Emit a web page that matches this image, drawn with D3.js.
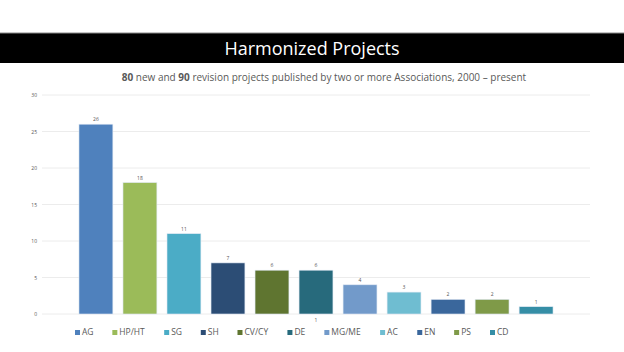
<!DOCTYPE html>
<html lang="en">
<head>
    <meta charset="UTF-8">
    <title>Harmonized Projects</title>
    <script src="https://cdnjs.cloudflare.com/ajax/libs/d3/7.8.5/d3.min.js"></script>
    <style>
        body { margin: 0; background: #fff; font-family: "Open Sans", Arial, sans-serif; }
        svg { display: block; }
    </style>
</head>
<body>
    <svg id="chart"></svg>
    <script>
        const width = 624;
        const height = 352;

        const categories = ["AG", "HP/HT", "SG", "SH", "CV/CY", "DE", "MG/ME", "AC", "EN", "PS", "CD"];
        const values = [26, 18, 11, 7, 6, 6, 4, 3, 2, 2, 1];
        const colors = ["#4f81bd", "#9bbb59", "#4bacc6", "#2c4d75", "#5f7530", "#276a7c",
                        "#729aca", "#6fbdd1", "#3a679c", "#7f9a48", "#358ea6"];
        const yTicks = [0, 5, 10, 15, 20, 25, 30];

        let svg = d3.select("#chart")
            .attr("width", width)
            .attr("height", height);

        // title band
        svg.append("rect")
            .attr("x", 0).attr("y", 33)
            .attr("width", width).attr("height", 30)
            .attr("fill", "#000");
        svg.append("line")
            .attr("x1", 0).attr("x2", width)
            .attr("y1", 33).attr("y2", 33)
            .attr("stroke", "#888").attr("stroke-width", 1);

        svg.append("text")
            .attr("x", width / 2).attr("y", 55)
            .attr("text-anchor", "middle")
            .attr("fill", "#fff")
            .attr("font-size", 18)
            .text("Harmonized Projects");

        let sub = svg.append("text")
            .attr("x", 324).attr("y", 81)
            .attr("text-anchor", "middle")
            .attr("fill", "#595959")
            .attr("font-size", 10);
        sub.append("tspan").attr("font-weight", "bold").text("80");
        sub.append("tspan").text(" new and ");
        sub.append("tspan").attr("font-weight", "bold").text("90");
        sub.append("tspan").text(" revision projects published by two or more Associations, 2000 – present");

        const x = d3.scaleBand()
            .domain(categories)
            .range([42, 590])
            .paddingInner(0.23)
            .paddingOuter(0.84);

        const y = d3.scaleLinear()
            .domain([0, 30])
            .range([314, 95]);

        // gridlines
        svg.append("g")
            .selectAll("line")
            .data(yTicks)
            .join("line")
            .attr("x1", 42).attr("x2", 590)
            .attr("y1", d => y(d)).attr("y2", d => y(d))
            .attr("stroke", "#ececec")
            .attr("stroke-width", 1);

        svg.append("g")
            .selectAll("text")
            .data(yTicks)
            .join("text")
            .attr("x", 37)
            .attr("y", d => y(d) + 2)
            .attr("text-anchor", "end")
            .attr("font-size", 5)
            .attr("fill", "#555")
            .text(d => d);

        svg.append("g")
            .selectAll("rect")
            .data(values)
            .join("rect")
            .attr("x", (d, i) => x(categories[i]))
            .attr("y", d => y(d))
            .attr("width", x.bandwidth())
            .attr("height", d => y(0) - y(d))
            .attr("fill", (d, i) => colors[i])
            .attr("stroke", "#dfe8f3")
            .attr("stroke-width", 0.6);

        svg.append("g")
            .selectAll("text")
            .data(values)
            .join("text")
            .attr("x", (d, i) => x(categories[i]) + x.bandwidth() / 2)
            .attr("y", d => y(d) - 3)
            .attr("text-anchor", "middle")
            .attr("font-size", 5)
            .attr("fill", "#555")
            .text(d => d);

        // stray label under DE
        svg.append("text")
            .attr("x", x("DE") + x.bandwidth() / 2)
            .attr("y", 322)
            .attr("text-anchor", "middle")
            .attr("font-size", 5)
            .attr("fill", "#555")
            .text("1");

        // legend
        let legend = svg.append("g").attr("font-size", 8.5).attr("fill", "#595959");
        let items = legend.selectAll("g")
            .data(categories)
            .join("g");
        items.append("rect")
            .attr("width", 5).attr("height", 5)
            .attr("y", -5)
            .attr("fill", (d, i) => colors[i]);
        items.append("text")
            .attr("x", 7)
            .text(d => d);

        let pos = 0;
        let offsets = [];
        items.each(function () {
            offsets.push(pos);
            pos += this.getBBox().width + 18;
        });
        let startX = 75;
        let scaleK = 415 / offsets[offsets.length - 1];
        items.attr("transform", (d, i) => "translate(" + (startX + offsets[i] * scaleK) + ",335)");
    </script>
</body>
</html>
